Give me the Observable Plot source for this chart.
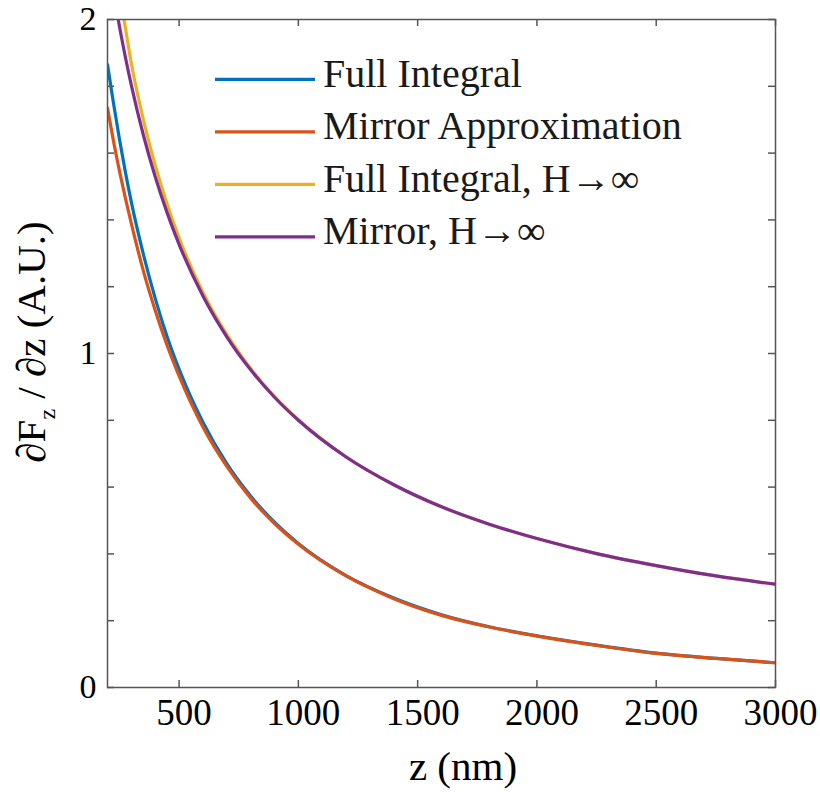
<!DOCTYPE html>
<html><head><meta charset="utf-8">
<script src="https://cdn.jsdelivr.net/npm/d3@7"></script>
<script src="https://cdn.jsdelivr.net/npm/@observablehq/plot@0.6"></script>
<style>
body{margin:0;background:#fff;}
#chart{position:relative;width:820px;height:792px;}
</style></head><body><div id="chart"></div>
<script>
const zValues = [200,225,250,275,300,350,400,450,500,600,700,800,900,1000,1200,1400,1600,1800,2000,2250,2500,2750,3000];
const fullIntegral    = [1.865,1.750,1.642,1.543,1.453,1.298,1.165,1.050,0.953,0.794,0.670,0.573,0.495,0.431,0.335,0.268,0.218,0.182,0.155,0.127,0.103,0.087,0.074];
const mirrorApprox    = [1.735,1.636,1.547,1.465,1.389,1.248,1.129,1.024,0.933,0.780,0.662,0.567,0.491,0.429,0.334,0.266,0.216,0.181,0.154,0.126,0.102,0.087,0.074];
const fullIntegralInf = [2.330,2.200,2.080,1.975,1.868,1.701,1.564,1.447,1.346,1.183,1.057,0.955,0.871,0.802,0.691,0.607,0.541,0.489,0.446,0.401,0.365,0.334,0.309];
const mirrorInf       = [2.197,2.083,1.980,1.887,1.803,1.655,1.529,1.421,1.327,1.172,1.050,0.951,0.869,0.800,0.690,0.607,0.541,0.489,0.446,0.401,0.365,0.334,0.309];
const seriesNames  = ["Full Integral","Mirror Approximation","Full Integral, H\u2192\u221e","Mirror, H\u2192\u221e"];
const seriesColors = ["#0072BD","#D95319","#EDB120","#7E2F8E"];
const xTicks = [500,1000,1500,2000,2500,3000];
const yMinorTicks = [0,0.2,0.4,0.6,0.8,1,1.2,1.4,1.6,1.8,2];
const yTickLabels = [0,1,2];
const xLabel = "z (nm)";

const W = 820, H = 792, mL = 107, mR = 45, mT = 19, mB = 105;
const innerH = H - mT - mB, innerW = W - mL - mR;
const axisColor = "#555555";
const serif = "'Liberation Serif','Times New Roman',serif";

const rows = [];
[fullIntegral, mirrorApprox, fullIntegralInf, mirrorInf].forEach((vals, i) =>
  vals.forEach((v, j) => rows.push({z: zValues[j], v, s: seriesNames[i]})));

const chart = Plot.plot({
  width: W, height: H,
  marginLeft: mL, marginRight: mR, marginTop: mT, marginBottom: mB,
  style: {fontFamily: serif, color: "#000", background: "#fff", overflow: "visible"},
  x: {domain: [200, 3000], axis: null},
  y: {domain: [0, 2], axis: null},
  color: {domain: seriesNames, range: seriesColors},
  marks: [
    Plot.line(rows, {x: "z", y: "v", z: "s", stroke: "s", strokeWidth: 3.2, curve: "monotone-x", clip: true}),
    Plot.tickX(xTicks, {x: d => d, insetTop: innerH - 7, stroke: axisColor, strokeWidth: 1.5}),
    Plot.tickX(xTicks, {x: d => d, insetBottom: innerH - 7, stroke: axisColor, strokeWidth: 1.5}),
    Plot.tickY(yMinorTicks, {y: d => d, insetRight: innerW - 7, stroke: axisColor, strokeWidth: 1.5}),
    Plot.tickY(yMinorTicks, {y: d => d, insetLeft: innerW - 7, stroke: axisColor, strokeWidth: 1.5}),
    Plot.axisX(xTicks, {anchor: "bottom", tickSize: 0, tickPadding: 11, dx: 5, fontSize: 37, label: null, fill: "#000", tickFormat: d => String(d)}),
    Plot.axisY(yTickLabels, {anchor: "left", tickSize: 0, tickPadding: 11, fontSize: 34, label: null, fill: "#000", tickFormat: d => String(d)}),
    Plot.frame({stroke: axisColor, strokeWidth: 1.5})
  ]
});
document.getElementById("chart").appendChild(chart);

const svg = d3.select(chart);
// x label
svg.append("text").attr("x", mL + innerW / 2 + 22).attr("y", 780).attr("text-anchor", "middle")
  .style("font-family", serif).style("font-size", "41px").attr("fill", "#000").text(xLabel);
// y label with subscript
const yl = svg.append("text").attr("transform", `translate(45,342) rotate(-90)`).attr("text-anchor", "middle")
  .style("font-family", serif).style("font-size", "41px").attr("fill", "#000");
yl.append("tspan").text("\u2202F");
yl.append("tspan").attr("dy", 10).style("font-size", "24px").text("z");
yl.append("tspan").attr("dy", -10).text(" / \u2202z (A.U.)");
// legend
const lg = svg.append("g");
seriesNames.forEach((name, i) => {
  const yy = 79.3 + 52.5 * i;
  lg.append("line").attr("x1", 215).attr("x2", 315).attr("y1", yy).attr("y2", yy)
    .attr("stroke", seriesColors[i]).attr("stroke-width", 3.2);
  lg.append("text").attr("x", 323).attr("y", yy + 7.5).attr("text-anchor", "start")
    .style("font-family", serif).style("font-size", "40px").attr("fill", "#1a1a1a").text(name);
});
</script></body></html>
